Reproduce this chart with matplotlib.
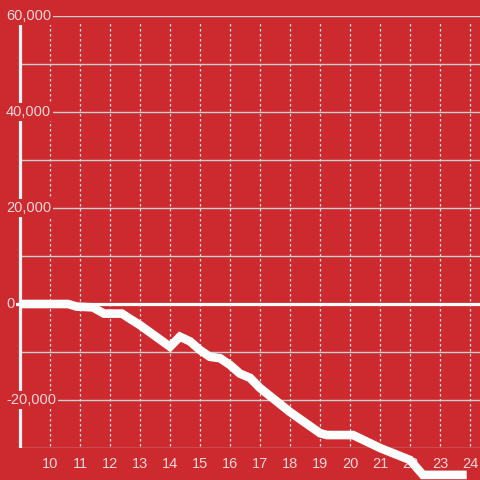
import matplotlib.pyplot as plt

plt.rcParams['font.family'] = ['Liberation Sans', 'DejaVu Sans']

# datos
horas = [9, 10.6, 10.9, 11.43, 11.8, 12.4, 12.67, 13, 14, 14.33, 14.67, 15, 15.33,
         15.67, 16, 16.33, 16.67, 17, 18, 19, 19.23, 20.1, 20.67, 21, 22, 22.43, 23.89]
valores = [0, 0, -550, -700, -2000, -2000, -3100, -4400, -8900, -6800, -7800, -9600,
           -11000, -11300, -12700, -14500, -15400, -17500, -22500, -26900, -27300,
           -27300, -29000, -30000, -32500, -35600, -35600]

x_ticks = list(range(10, 25))
y_ticks = [60000, 40000, 20000, 0, -20000]
y_labels = ["60,000", "40,000", "20,000", "0", "-20,000"]
y_minor = [50000, 30000, 10000, -10000, -30000]

ROJO = "#cc2a2f"
TEXTO = "#f3d6d6"
GRIS = "#cfcfcf"

fig = plt.figure(figsize=(4.8, 4.8), dpi=100, facecolor=ROJO)
ax = fig.add_axes([0, 32 / 480, 1, 432 / 480])
ax.set_facecolor(ROJO)
ax.set_xlim(9 - 20 / 30, 9 + 460 / 30)
ax.set_ylim(-30000, 60000)
for s in ax.spines.values():
    s.set_visible(False)
x_fin = ax.get_xlim()[1]

# grilla vertical punteada
for x in x_ticks:
    ax.plot([x, x], [-29500, 58500], color="#f0e0e0", lw=0.9, ls=(0, (2, 2)), zorder=1)

# grilla horizontal
for y in y_minor:
    ax.plot([9, x_fin], [y, y], color=GRIS, lw=1, zorder=1)
for y in y_ticks:
    if y == 0:
        continue
    ax.plot([9 + 33 / 30, x_fin], [y, y], color=GRIS, lw=1, zorder=1)

# linea del cero y eje y
ax.plot([9 - 3 / 30, x_fin], [0, 0], color="white", lw=2.3, zorder=2)
ax.plot([9, 9], [-30000, 60000], color="#f2f2f2", lw=2.3, zorder=2)

# serie
ax.plot(horas, valores, color="white", lw=6.2, solid_joinstyle="miter",
        solid_capstyle="butt", clip_on=False, zorder=4)

# etiquetas eje y con fondo
for y, lab in zip(y_ticks, y_labels):
    ax.text(9 - 14 / 30, y, lab, ha="left", va="center", color=TEXTO, fontsize=10.5,
            zorder=5, bbox=dict(facecolor=ROJO, edgecolor="none", pad=1.5))

ax.set_yticks([])
ax.set_xticks(x_ticks)
ax.set_xticklabels([str(x) for x in x_ticks])
ax.tick_params(axis="x", length=0, pad=6.5, labelcolor=TEXTO, labelsize=10.5)

fig.savefig("out.png", dpi=100, facecolor=ROJO)
